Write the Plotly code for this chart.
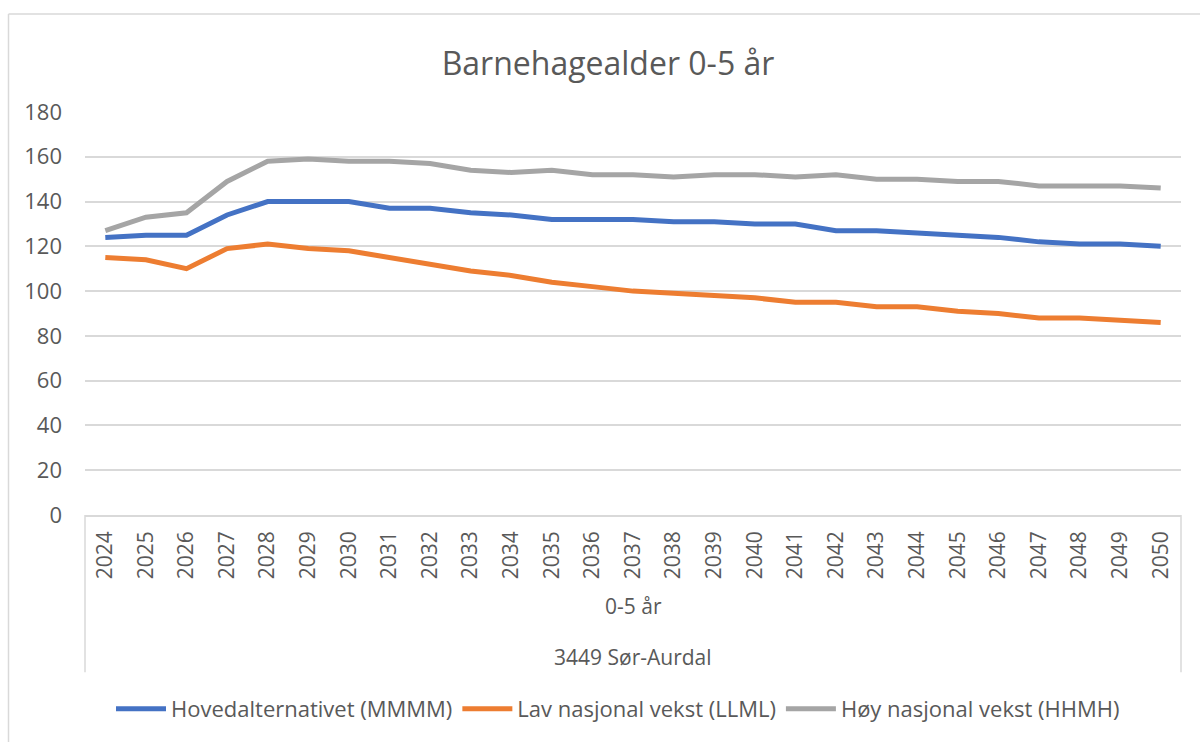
import plotly.graph_objects as go

years = [str(y) for y in range(2024, 2051)]
hoved = [124, 125, 125, 134, 140, 140, 140, 137, 137, 135, 134, 132, 132, 132,
         131, 131, 130, 130, 127, 127, 126, 125, 124, 122, 121, 121, 120]
lav = [115, 114, 110, 119, 121, 119, 118, 115, 112, 109, 107, 104, 102, 100,
       99, 98, 97, 95, 95, 93, 93, 91, 90, 88, 88, 87, 86]
hoy = [127, 133, 135, 149, 158, 159, 158, 158, 157, 154, 153, 154, 152, 152,
       151, 152, 152, 151, 152, 150, 150, 149, 149, 147, 147, 147, 146]
series_names = ["Hovedalternativet (MMMM)", "Lav nasjonal vekst (LLML)", "Høy nasjonal vekst (HHMH)"]
colors = ["#4472C4", "#ED7D31", "#A5A5A5"]
title_text = "Barnehagealder 0-5 år"
level2 = "0-5 år"
level3 = "3449 Sør-Aurdal"

FONT = "Open Sans"
TXT = "#595959"
GRID = "#D9D9D9"
FS = 22

fig = go.Figure()
for name, vals, c in zip(series_names, [hoved, lav, hoy], colors):
    fig.add_trace(go.Scatter(x=years, y=vals, mode="lines", name=name,
                             line=dict(color=c, width=5)))

# plot area pixel geometry
L, R, T, B = 85, 1181, 112, 517
W, H = R - L, B - T

def py(pix):
    return (B - pix) / H

def px(pix):
    return (pix - L) / W

fig.update_layout(
    width=1200, height=742,
    margin=dict(l=L, r=1200 - R, t=T, b=742 - B),
    paper_bgcolor="white", plot_bgcolor="white",
    font=dict(family=FONT, color=TXT, size=FS),
    title=dict(text=title_text, x=608 / 1200, xref="container", xanchor="center",
               y=1 - 64 / 742, yref="container", yanchor="middle",
               font=dict(size=32, color=TXT, family=FONT)),
    showlegend=True,
    legend=dict(orientation="h", x=px(618), xanchor="center", y=py(712), yanchor="middle",
                font=dict(size=FS, color=TXT, family=FONT), itemwidth=50,
                bgcolor="rgba(0,0,0,0)"),
    xaxis=dict(type="category", tickangle=-90, showgrid=False, showline=True,
               linecolor=GRID, linewidth=1.5, ticks="", ticklabelstandoff=6,
               tickfont=dict(size=21, color=TXT, family=FONT), range=[-0.5, 26.5]),
    yaxis=dict(range=[0, 180], dtick=20, showgrid=True, gridcolor=GRID, gridwidth=1.5,
               zeroline=False, showline=False, ticks="", ticklabelstandoff=22,
               tickfont=dict(size=FS, color=TXT, family=FONT)),
)

# multi-level category box lines
for xp in (0, 1):
    fig.add_shape(type="line", xref="paper", yref="paper", x0=xp, x1=xp,
                  y0=0, y1=py(675), line=dict(color=GRID, width=1.5))

# chart outer border (left and top)
fig.add_shape(type="line", xref="paper", yref="paper", x0=px(8.5), x1=px(8.5),
              y0=py(13.5), y1=py(760), line=dict(color=GRID, width=1.5))
fig.add_shape(type="line", xref="paper", yref="paper", x0=px(8.5), x1=px(1210),
              y0=py(13.5), y1=py(13.5), line=dict(color=GRID, width=1.5))

fig.add_annotation(text=level2, xref="paper", yref="paper", x=0.5, y=py(608),
                   showarrow=False, xanchor="center", yanchor="middle",
                   font=dict(size=21, color=TXT, family=FONT))
fig.add_annotation(text=level3, xref="paper", yref="paper", x=0.5, y=py(660),
                   showarrow=False, xanchor="center", yanchor="middle",
                   font=dict(size=21, color=TXT, family=FONT))

fig.write_html("out.html", config={"displayModeBar": False},
               post_script="document.body.style.margin='0px';document.body.style.overflow='hidden';")
